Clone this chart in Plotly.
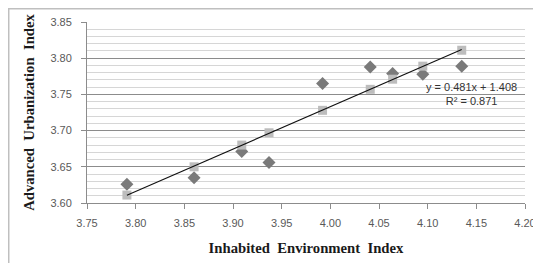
import numpy as np
import plotly.graph_objects as go

# Data
x_env = [3.791, 3.860, 3.909, 3.937, 3.992, 4.041, 4.064, 4.095, 4.135]
y_actual = [3.626, 3.635, 3.671, 3.656, 3.765, 3.788, 3.779, 3.778, 3.789]
y_fitted = [3.611, 3.650, 3.680, 3.697, 3.728, 3.757, 3.771, 3.789, 3.811]
eq_text = "y = 0.481x + 1.408"
r2_text = "R² = 0.871"
x_ticks = [3.75, 3.80, 3.85, 3.90, 3.95, 4.00, 4.05, 4.10, 4.15, 4.20]
y_ticks = [3.60, 3.65, 3.70, 3.75, 3.80, 3.85]

coef = np.polyfit(x_env, y_fitted, 1)
x_line = [min(x_env), max(x_env)]
y_line = [float(np.polyval(coef, v)) for v in x_line]

fig = go.Figure()
fig.add_trace(go.Scatter(x=x_env, y=y_actual, mode="markers",
                         marker=dict(symbol="diamond", size=10, color="#7a7a7a"),
                         showlegend=False, cliponaxis=False))
fig.add_trace(go.Scatter(x=x_env, y=y_fitted, mode="markers",
                         marker=dict(symbol="square", size=9, color="#bdbdbd"),
                         showlegend=False, cliponaxis=False))
fig.add_trace(go.Scatter(x=x_line, y=y_line, mode="lines",
                         line=dict(color="#111111", width=1.1),
                         showlegend=False))

tickfont = dict(family="Liberation Sans, Arial, sans-serif", size=11, color="#595959")
titlefont = dict(family="Liberation Serif, Times New Roman, serif", size=14.7, color="#1a1a1a")

fig.update_xaxes(range=[3.75, 4.20], tickvals=x_ticks,
                 ticktext=[f"{v:.2f}" for v in x_ticks],
                 showgrid=False, zeroline=False,
                 showline=True, linecolor="#8c8c8c", linewidth=1,
                 ticks="outside", ticklen=5, tickcolor="#8c8c8c",
                 tickfont=tickfont, ticklabeloverflow="allow", ticklabelstandoff=5,
                 title=dict(text="<b>Inhabited  Environment  Index</b>", font=titlefont, standoff=14))
fig.update_yaxes(range=[3.60, 3.85], tickvals=y_ticks,
                 ticktext=[f"{v:.2f}" for v in y_ticks],
                 showgrid=True, gridcolor="#8c8c8c", gridwidth=1,
                 minor=dict(dtick=0.01, showgrid=True, gridcolor="#d6d6d6", gridwidth=1),
                 zeroline=False,
                 showline=True, linecolor="#8c8c8c", linewidth=1,
                 ticks="outside", ticklen=5, tickcolor="#8c8c8c",
                 tickfont=tickfont, ticklabelstandoff=7,
                 title=dict(text="<b>Advanced  Urbanization  Index</b>", font=titlefont, standoff=12))

fig.add_annotation(x=4.1455, y=3.7505, xref="x", yref="y",
                   text=eq_text + "<br>" + r2_text, showarrow=False,
                   font=dict(family="Liberation Sans, Arial, sans-serif", size=11, color="#333333"),
                   align="center", xanchor="center", yanchor="middle")

fig.add_shape(type="rect", xref="paper", yref="paper",
              x0=-0.1787, x1=1.06, y0=-0.34, y1=1.0732,
              line=dict(color="#bfbfbf", width=1.5), fillcolor="rgba(0,0,0,0)", layer="below")

# page body has an 8px margin, so the figure is offset by 8px and kept small enough not to scroll
fig.update_layout(width=533, height=255,
                  margin=dict(l=79, r=16, t=14, b=60, autoexpand=False),
                  paper_bgcolor="white", plot_bgcolor="white")

fig.write_html("out.html")
